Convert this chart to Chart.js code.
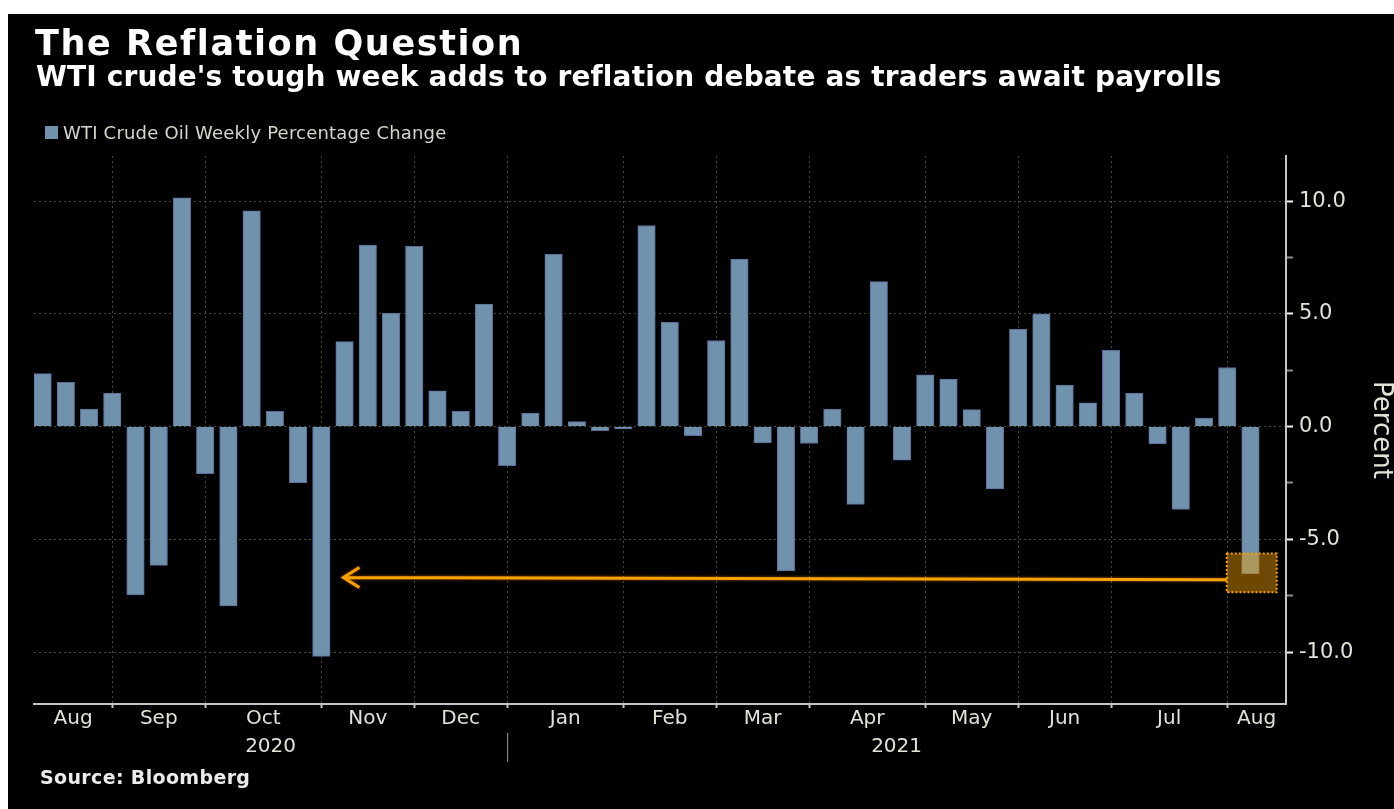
<!DOCTYPE html>
<html>
<head>
<meta charset="utf-8">
<title>The Reflation Question</title>
<script src="https://cdn.jsdelivr.net/npm/chart.js@4.4.1/dist/chart.umd.min.js"></script>
<style>
  html, body { margin: 0; padding: 0; background: #fff; }
  body { width: 1394px; height: 809px; position: relative; overflow: hidden; font-family: 'DejaVu Sans', sans-serif; }
  #panel { position: absolute; left: 8px; top: 14px; right: 0; bottom: 0; background: #000; }
  #chart { position: absolute; left: 0; top: 0; }
  .txt { position: absolute; white-space: nowrap; line-height: 1; }
  #title { left: 35px; top: 26px; font-size: 35px; font-weight: bold; color: #fff; letter-spacing: 1.6px; }
  #subtitle { left: 36px; top: 63px; font-size: 28px; font-weight: bold; color: #fff; letter-spacing: 0.15px; }
  #swatch { position: absolute; left: 45px; top: 126px; width: 13px; height: 13px; background: #7092ac; }
  #legend { left: 63px; top: 124px; font-size: 18px; color: #d6d6cc; letter-spacing: 0.2px; }
  #source { left: 40px; top: 768px; font-size: 19px; font-weight: bold; color: #ececec; letter-spacing: 0.35px; }
</style>
</head>
<body>
<div id="panel"></div>
<canvas id="chart" width="1394" height="809"></canvas>
<div class="txt" id="title">The Reflation Question</div>
<div class="txt" id="subtitle">WTI crude's tough week adds to reflation debate as traders await payrolls</div>
<div id="swatch"></div>
<div class="txt" id="legend">WTI Crude Oil Weekly Percentage Change</div>
<div class="txt" id="source">Source: Bloomberg</div>
<script>
// weekly % change, Aug 2020 - Aug 2021 (one value per week)
const wtiWeeklyChange = [
  2.35, 1.96, 0.78, 1.49, -7.46, -6.15, 10.15, -2.09, -7.95, 9.57,
  0.68, -2.49, -10.19, 3.77, 8.05, 5.03, 8.0, 1.59, 0.68, 5.43,
  -1.73, 0.6, 7.64, 0.22, -0.18, -0.1, 8.92, 4.62, -0.4, 3.82,
  7.43, -0.72, -6.4, -0.75, 0.78, -3.45, 6.43, -1.49, 2.3, 2.11,
  0.75, -2.76, 4.32, 5.0, 1.84, 1.05, 3.38, 1.49, -0.77, -3.67,
  0.38, 2.62, -6.52
];
const monthNames = ['Aug', 'Sep', 'Oct', 'Nov', 'Dec', 'Jan', 'Feb', 'Mar', 'Apr', 'May', 'Jun', 'Jul', 'Aug'];
// week index where each month boundary tick sits
const monthEdges = [3, 7, 12, 16, 20, 25, 29, 33, 38, 42, 46, 51];
const yearNames = ['2020', '2021'];
const yearBreak = 20;
const xRange = [-0.37, 53.53];
const yRange = [-12.3, 12];
const yTicks = [-10, -7.5, -5, -2.5, 0, 2.5, 5, 7.5, 10];
// orange highlight: box round the last week, arrow back to the Oct 2020 drop
const highlightX = [50.98, 53.13];
const highlightY = [-5.63, -7.35];
const arrowX = [12.95, 50.98];
const arrowY = [-6.69, -6.79];

const gridCol = '#4a4a2c';
const labelCol = '#e2e2d6';
const none = 'rgba(0,0,0,0)';

const annotate = {
  id: 'annotate',
  afterDatasetsDraw(chart) {
    const { ctx, scales: { x, y } } = chart;
    const bx1 = x.getPixelForValue(highlightX[0]);
    const bx2 = x.getPixelForValue(highlightX[1]);
    const by1 = y.getPixelForValue(highlightY[0]);
    const by2 = y.getPixelForValue(highlightY[1]);
    ctx.save();
    ctx.fillStyle = 'rgba(245,160,0,0.45)';
    ctx.fillRect(bx1, by1, bx2 - bx1, by2 - by1);
    ctx.setLineDash([2, 2]);
    ctx.strokeStyle = '#f5a000';
    ctx.lineWidth = 2;
    ctx.strokeRect(bx1, by1, bx2 - bx1, by2 - by1);

    const tx = x.getPixelForValue(arrowX[0]);
    const ty = y.getPixelForValue(arrowY[0]);
    const ex = x.getPixelForValue(arrowX[1]);
    const ey = y.getPixelForValue(arrowY[1]);
    ctx.setLineDash([]);
    ctx.strokeStyle = '#f7a200';
    ctx.lineWidth = 3;
    ctx.shadowColor = 'rgba(255,140,0,0.6)';
    ctx.shadowBlur = 3;
    ctx.beginPath();
    ctx.moveTo(tx, ty);
    ctx.lineTo(ex, ey);
    ctx.moveTo(tx + 16, ty - 10);
    ctx.lineTo(tx, ty);
    ctx.lineTo(tx + 16, ty + 10);
    ctx.stroke();
    ctx.restore();
  },
  afterDraw(chart) {
    // short divider between the two years
    const { ctx, scales: { x } } = chart;
    const px = x.getPixelForValue(yearBreak);
    ctx.save();
    ctx.strokeStyle = '#9a9a9a';
    ctx.lineWidth = 1;
    ctx.beginPath();
    ctx.moveTo(px + 0.5, x.top + 29);
    ctx.lineTo(px + 0.5, x.top + 58);
    ctx.stroke();
    ctx.restore();
  }
};

Chart.defaults.font.family = "'DejaVu Sans', sans-serif";

new Chart(document.getElementById('chart'), {
  type: 'bar',
  data: {
    datasets: [{
      label: 'WTI Crude Oil Weekly Percentage Change',
      data: wtiWeeklyChange.map((v, i) => ({ x: i, y: v })),
      backgroundColor: '#7092ac',
      borderColor: '#5d6c9a',
      borderWidth: 1,
      barThickness: 17.5
    }]
  },
  options: {
    responsive: false,
    animation: false,
    devicePixelRatio: 1,
    layout: { padding: { left: 34, top: 156, right: 0, bottom: 0 } },
    plugins: { legend: { display: false }, tooltip: { enabled: false } },
    scales: {
      x: {
        type: 'linear',
        offset: false,
        min: xRange[0],
        max: xRange[1],
        afterFit(axis) { axis.height = 105; },
        afterBuildTicks(axis) {
          const ticks = monthEdges.map(v => ({ value: v, edge: true, txt: '' }));
          const bounds = [xRange[0], ...monthEdges, xRange[1]];
          monthNames.forEach((m, i) => ticks.push({ value: (bounds[i] + bounds[i + 1]) / 2, txt: m }));
          const yb = [xRange[0], yearBreak, xRange[1]];
          yearNames.forEach((yr, i) => ticks.push({ value: (yb[i] + yb[i + 1]) / 2, txt: ['', yr] }));
          ticks.sort((a, b) => a.value - b.value);
          axis.ticks = ticks;
        },
        ticks: {
          autoSkip: false,
          maxRotation: 0,
          minRotation: 0,
          padding: -3,
          color: labelCol,
          font: { size: 20, lineHeight: 1.4 },
          callback: (v, i, ticks) => ticks[i].txt
        },
        grid: {
          offset: false,
          color: c => (c.tick && c.tick.edge ? gridCol : none),
          tickColor: c => (c.tick && c.tick.edge ? '#c4c4c4' : none),
          lineWidth: 1,
          tickLength: 4,
          tickWidth: 2
        },
        border: { display: true, color: '#c4c4c4', width: 2, dash: [2, 3] }
      },
      y: {
        position: 'right',
        min: yRange[0],
        max: yRange[1],
        afterFit(axis) { axis.width = 108; },
        afterBuildTicks(axis) { axis.ticks = yTicks.map(v => ({ value: v })); },
        ticks: {
          padding: 6,
          color: labelCol,
          font: { size: 21 },
          callback: v => (v % 5 === 0 ? v.toFixed(1) : '')
        },
        grid: {
          color: c => (c.tick && c.tick.value % 5 === 0 ? gridCol : none),
          tickColor: c => (c.tick && c.tick.value % 5 === 0 ? '#f0f0f0' : '#8a8a8a'),
          lineWidth: 1,
          tickLength: 7,
          tickWidth: 2
        },
        border: { display: true, color: '#c4c4c4', width: 2, dash: [2, 3] },
        title: {
          display: true,
          text: 'Percent',
          color: labelCol,
          padding: 0,
          font: { size: 26, lineHeight: 1.05 }
        }
      }
    }
  },
  plugins: [annotate]
});
</script>
</body>
</html>
